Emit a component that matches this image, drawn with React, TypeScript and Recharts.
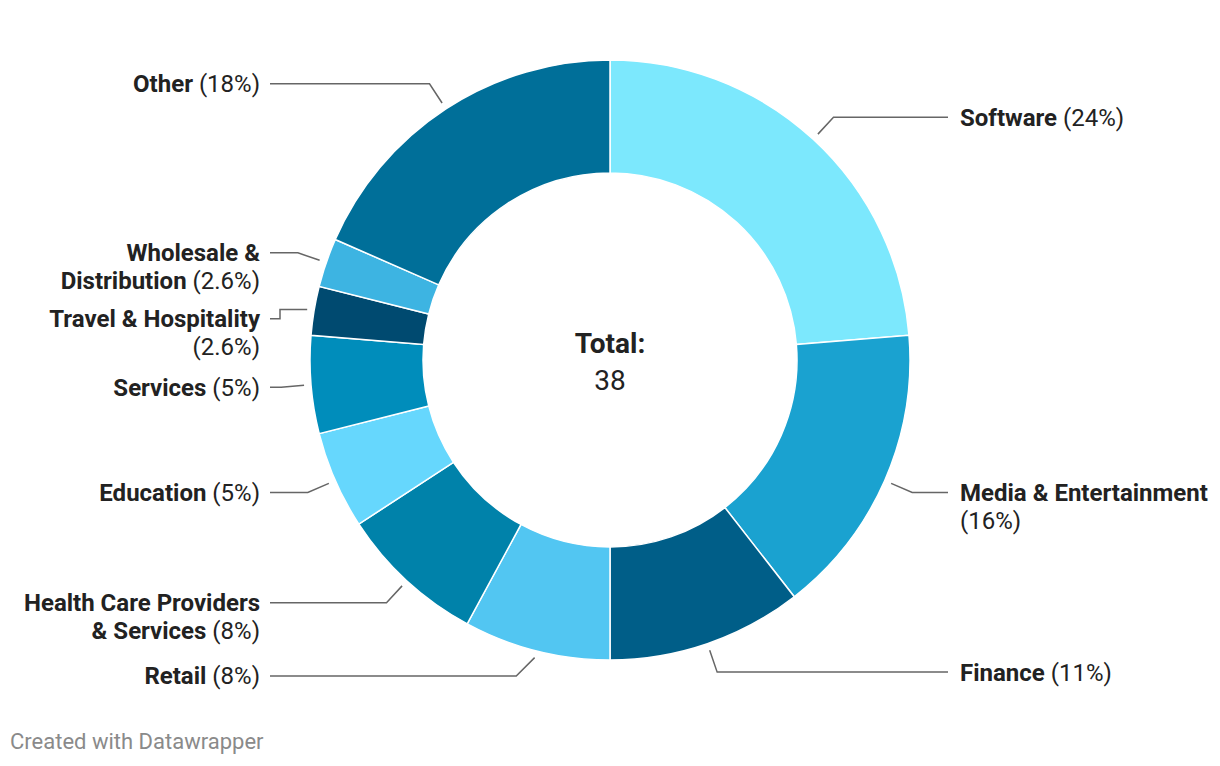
import { PieChart, Pie, Cell, Label } from 'recharts';

// Industries, clockwise from 12 o'clock
const categories = [
  'Software',
  'Media & Entertainment',
  'Finance',
  'Retail',
  'Health Care Providers & Services',
  'Education',
  'Services',
  'Travel & Hospitality',
  'Wholesale & Distribution',
  'Other',
];
const counts = [9, 6, 4, 3, 3, 2, 2, 1, 1, 7];
const shares = ['24%', '16%', '11%', '8%', '8%', '5%', '5%', '2.6%', '2.6%', '18%'];
// how many words of the name stay on the first line (0 = no wrap)
const wrapAfter = [0, 3, 0, 0, 3, 0, 0, 3, 2, 0];

const COLORS = [
  '#7ce8fd', // Software
  '#1aa2d0', // Media
  '#005e88', // Finance
  '#52c6f2', // Retail
  '#0082aa', // Health care
  '#66d7fd', // Education
  '#008dbb', // Services
  '#004a70', // Travel
  '#3db4e2', // Wholesale
  '#006f99', // Other
];

const W = 1220;
const H = 766;
const CX = 610;
const CY = 360;
const OUTER = 300;
const INNER = 187;
const RADIAN = Math.PI / 180;
const FONT = 'Roboto, "Noto Sans", sans-serif';
const LABEL_SIZE = 24;
const LINE_H = 28;
const GAP = 38;
const MAX_LABEL_Y = 676;
const TEXT = '#222222';
const LINE = '#666666';

const total = counts.reduce((a, b) => a + b, 0);
const data = categories.map((name, i) => ({ name, value: counts[i] }));

type Seg = { t: string; b: boolean };

function labelLines(i: number): Seg[][] {
  const words = categories[i].split(' ');
  const n = wrapAfter[i];
  if (!n) return [[{ t: categories[i], b: true }, { t: ` (${shares[i]})`, b: false }]];
  const first = words.slice(0, n).join(' ');
  const rest = words.slice(n).join(' ');
  if (!rest) return [[{ t: first, b: true }], [{ t: `(${shares[i]})`, b: false }]];
  return [[{ t: first, b: true }], [{ t: rest, b: true }, { t: ` (${shares[i]})`, b: false }]];
}

// simple label placement: start at the elbow, push down when labels collide,
// keep the last one above the bottom limit
function layoutLabels(): number[] {
  let acc = 0;
  const items = counts.map((v, i) => {
    const mid = 90 - ((acc + v / 2) / total) * 360;
    acc += v;
    const y = CY + (OUTER + 30) * Math.sin(-mid * RADIAN);
    const right = Math.cos(-mid * RADIAN) > 0;
    return { i, y, right, lines: labelLines(i).length };
  });
  const out: number[] = new Array(counts.length);
  [true, false].forEach((side) => {
    const list = items.filter((d) => d.right === side).sort((p, q) => p.y - q.y);
    let prevBottom = -Infinity;
    list.forEach((d) => {
      const y = Math.min(Math.max(d.y, prevBottom + GAP), MAX_LABEL_Y);
      out[d.i] = y;
      prevBottom = y + (d.lines - 1) * LINE_H;
    });
  });
  return out;
}

const labelY = layoutLabels();

const renderLabel = (props: any) => {
  const { cx, cy, midAngle, outerRadius, name } = props;
  const index = categories.indexOf(name);
  const cos = Math.cos(-midAngle * RADIAN);
  const sin = Math.sin(-midAngle * RADIAN);
  const sx = cx + (outerRadius + 7) * cos;
  const sy = cy + (outerRadius + 7) * sin;
  const ex = cx + (outerRadius + 30) * cos;
  const ey = cy + (outerRadius + 30) * sin;
  const right = cos > 0;
  const ly = labelY[index];
  const lineEnd = right ? cx + 338 : cx - 340;
  const textX = right ? lineEnd + 12 : lineEnd - 10;
  const dir = right ? 1 : -1;

  let pts: number[][];
  if (Math.abs(ly - ey) < 2) {
    pts = [[sx, sy], [ex, ly], [lineEnd, ly]];
  } else if (ly < ey && sy > cy) {
    // pulled up at the bottom: 45 degree leader
    pts = [[sx, sy], [sx + dir * Math.abs(ly - sy), ly], [lineEnd, ly]];
  } else {
    const stepX = lineEnd - dir * 10;
    pts = [[sx, sy], [stepX, sy], [stepX, ly], [lineEnd, ly]];
  }

  const lines = labelLines(index);
  return (
    <g key={`label-${index}`}>
      <polyline
        points={pts.map((p) => p.join(',')).join(' ')}
        fill="none"
        stroke={LINE}
        strokeWidth={1.5}
      />
      {lines.map((segs, li) => (
        <text
          key={li}
          x={textX}
          y={ly + li * LINE_H}
          dy="0.35em"
          textAnchor={right ? 'start' : 'end'}
          fontFamily={FONT}
          fontSize={LABEL_SIZE}
          fill={TEXT}
        >
          {segs.map((s, si) => (
            <tspan key={si} fontWeight={s.b ? 700 : 400}>
              {s.t}
            </tspan>
          ))}
        </text>
      ))}
    </g>
  );
};

const CenterTotal = () => (
  <g>
    <text x={CX} y={CY - 17} dy="0.35em" textAnchor="middle" fontFamily={FONT} fontSize={28} fontWeight={700} fill={TEXT}>
      Total:
    </text>
    <text x={CX} y={CY + 20} dy="0.35em" textAnchor="middle" fontFamily={FONT} fontSize={28} fill={TEXT}>
      {total}
    </text>
  </g>
);

export default function App() {
  return (
    <div style={{ position: 'absolute', left: 0, top: 0, width: W, height: H, background: '#fff' }}>
      <PieChart width={W} height={H} margin={{ top: 0, right: 0, bottom: 0, left: 0 }}>
        <Pie
          data={data}
          dataKey="value"
          nameKey="name"
          cx={CX}
          cy={CY}
          innerRadius={INNER}
          outerRadius={OUTER}
          startAngle={90}
          endAngle={-270}
          stroke="#ffffff"
          strokeWidth={1.5}
          label={renderLabel}
          labelLine={false}
          isAnimationActive={false}
        >
          {data.map((d, i) => (
            <Cell key={d.name} fill={COLORS[i]} />
          ))}
          <Label position="center" content={<CenterTotal />} />
        </Pie>
      </PieChart>
      <div
        style={{
          position: 'absolute',
          left: 10,
          top: 729,
          fontFamily: FONT,
          fontSize: 22,
          color: '#8a8a8a',
          lineHeight: '26px',
        }}
      >
        Created with Datawrapper
      </div>
    </div>
  );
}
